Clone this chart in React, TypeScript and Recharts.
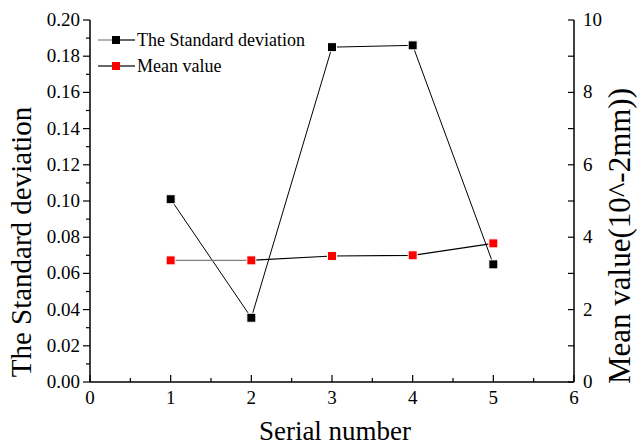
import React from "react";
import { ComposedChart, Line, XAxis, YAxis } from "recharts";

const serial = [1, 2, 3, 4, 5];
const stdDev = [0.101, 0.0355, 0.185, 0.186, 0.065];
const meanValue = [3.36, 3.36, 3.48, 3.5, 3.83];

const xTicks = [0, 0.5, 1, 1.5, 2, 2.5, 3, 3.5, 4, 4.5, 5, 5.5, 6];
const leftTicks = [0, 0.01, 0.02, 0.03, 0.04, 0.05, 0.06, 0.07, 0.08, 0.09, 0.1, 0.11, 0.12, 0.13, 0.14, 0.15, 0.16, 0.17, 0.18, 0.19, 0.2];
const rightTicks = [0, 1, 2, 3, 4, 5, 6, 7, 8, 9, 10];
const topTicks = [0, 1, 2, 3, 4, 5, 6, 7, 8, 9, 10];

const data = serial.map((s, i) => ({ serial: s, std: stdDev[i], mean: meanValue[i] }));

// first segment of the mean line is drawn grey in the original
const greyUntil = (serial[1] - serial[0]) / (serial[serial.length - 1] - serial[0]);

const FONT = '"Liberation Serif", "Times New Roman", serif';
const tickText = { fontFamily: FONT, fontSize: 19, fill: "#000" };

const BottomTick = ({ x, y, payload }: any) => {
  const major = Number.isInteger(payload.value);
  return (
    <g>
      <line x1={x} x2={x} y1={y} y2={y - (major ? 7 : 4)} stroke="#000" strokeWidth={1.2} />
      {major && (
        <text x={x} y={y + 22} textAnchor="middle" style={tickText}>
          {payload.value}
        </text>
      )}
    </g>
  );
};

const TopTick = ({ x, y }: any) => (
  <line x1={x} x2={x} y1={y} y2={y + 5} stroke="#000" strokeWidth={1.2} />
);

const LeftTick = ({ x, y, payload, index }: any) => {
  const major = index % 2 === 0;
  return (
    <g>
      <line x1={x} x2={x - (major ? 7 : 4)} y1={y} y2={y} stroke="#000" strokeWidth={1.2} />
      {major && (
        <text x={x - 10} y={y + 6} textAnchor="end" style={tickText}>
          {payload.value.toFixed(2)}
        </text>
      )}
    </g>
  );
};

const RightTick = ({ x, y, payload }: any) => {
  const major = payload.value % 2 === 0;
  return (
    <g>
      <line x1={x} x2={x - 6} y1={y} y2={y} stroke="#000" strokeWidth={1.2} />
      {major && (
        <text x={x + 9} y={y + 6} textAnchor="start" style={tickText}>
          {payload.value}
        </text>
      )}
    </g>
  );
};

const SquareDot = (color: string) => (props: any) => {
  const { cx, cy } = props;
  if (cx == null || cy == null) return null;
  return <rect x={cx - 4.5} y={cy - 4.5} width={9} height={9} fill={color} stroke="#fff" strokeWidth={1} />;
};

const LegendRow = ({ left, color, label }: { left: string; color: string; label: string }) => (
  <div style={{ display: "flex", alignItems: "center", height: 26 }}>
    <svg width={39} height={12}>
      <line x1={0} x2={14} y1={6} y2={6} stroke={left} strokeWidth={1.2} />
      <line x1={22} x2={37} y1={6} y2={6} stroke="#000" strokeWidth={1.2} />
      <rect x={14} y={2} width={8} height={8} fill={color} />
    </svg>
    <span style={{ fontSize: 18, fontFamily: FONT, color: "#000", lineHeight: "18px" }}>{label}</span>
  </div>
);

export default function App() {
  return (
    <div style={{ position: "absolute", left: 0, top: 0, width: 639, height: 447, background: "#fff" }}>
      <ComposedChart width={639} height={447} data={data} margin={{ top: 20, right: 0, bottom: 0, left: 0 }}>
        <XAxis
          xAxisId="bottom"
          dataKey="serial"
          type="number"
          domain={[0, 6]}
          ticks={xTicks}
          interval={0}
          height={65}
          tickSize={0}
          tickMargin={0}
          tickLine={false}
          axisLine={{ stroke: "#000", strokeWidth: 1.5 }}
          tick={<BottomTick />}
        />
        <XAxis
          xAxisId="top"
          orientation="top"
          type="number"
          domain={[0, 10]}
          ticks={topTicks}
          interval={0}
          height={0}
          tickSize={0}
          tickMargin={0}
          tickLine={false}
          axisLine={{ stroke: "#000", strokeWidth: 1.5 }}
          tick={<TopTick />}
        />
        <YAxis
          yAxisId="left"
          domain={[0, 0.2]}
          ticks={leftTicks}
          interval={0}
          width={90}
          tickSize={0}
          tickMargin={0}
          tickLine={false}
          axisLine={{ stroke: "#000", strokeWidth: 1.5 }}
          tick={<LeftTick />}
        />
        <YAxis
          yAxisId="right"
          orientation="right"
          domain={[0, 10]}
          ticks={rightTicks}
          interval={0}
          width={65}
          tickSize={0}
          tickMargin={0}
          tickLine={false}
          axisLine={{ stroke: "#000", strokeWidth: 1.5 }}
          tick={<RightTick />}
        />
        <Line
          xAxisId="bottom"
          yAxisId="left"
          dataKey="std"
          stroke="#000"
          strokeWidth={1}
          dot={SquareDot("#000")}
          activeDot={false}
          isAnimationActive={false}
        />
        <Line
          xAxisId="bottom"
          yAxisId="right"
          dataKey="mean"
          stroke="url(#meanStroke)"
          strokeWidth={1.2}
          dot={SquareDot("#ff0000")}
          activeDot={false}
          isAnimationActive={false}
        />
      </ComposedChart>
      <svg width={639} height={447} style={{ position: "absolute", left: 0, top: 0, pointerEvents: "none" }}>
        <defs>
          <linearGradient id="meanStroke" x1="0" y1="0" x2="1" y2="0">
            <stop offset={0} stopColor="#808080" />
            <stop offset={greyUntil} stopColor="#808080" />
            <stop offset={greyUntil} stopColor="#000" />
            <stop offset={1} stopColor="#000" />
          </linearGradient>
        </defs>
        <text x={335} y={440} textAnchor="middle" style={{ fontFamily: FONT, fontSize: 27, fill: "#000" }}>
          Serial number
        </text>
        <text
          transform="translate(31,242) rotate(-90)"
          textAnchor="middle"
          style={{ fontFamily: FONT, fontSize: 29, fill: "#000" }}
        >
          The Standard deviation
        </text>
        <text
          transform="translate(630,236) rotate(-90)"
          textAnchor="middle"
          style={{ fontFamily: FONT, fontSize: 31, fill: "#000" }}
        >
          Mean value(10^-2mm))
        </text>
      </svg>
      <div style={{ position: "absolute", left: 98, top: 27 }}>
        <LegendRow left="#808080" color="#000" label="The Standard deviation" />
        <LegendRow left="#000" color="#ff0000" label="Mean value" />
      </div>
    </div>
  );
}
